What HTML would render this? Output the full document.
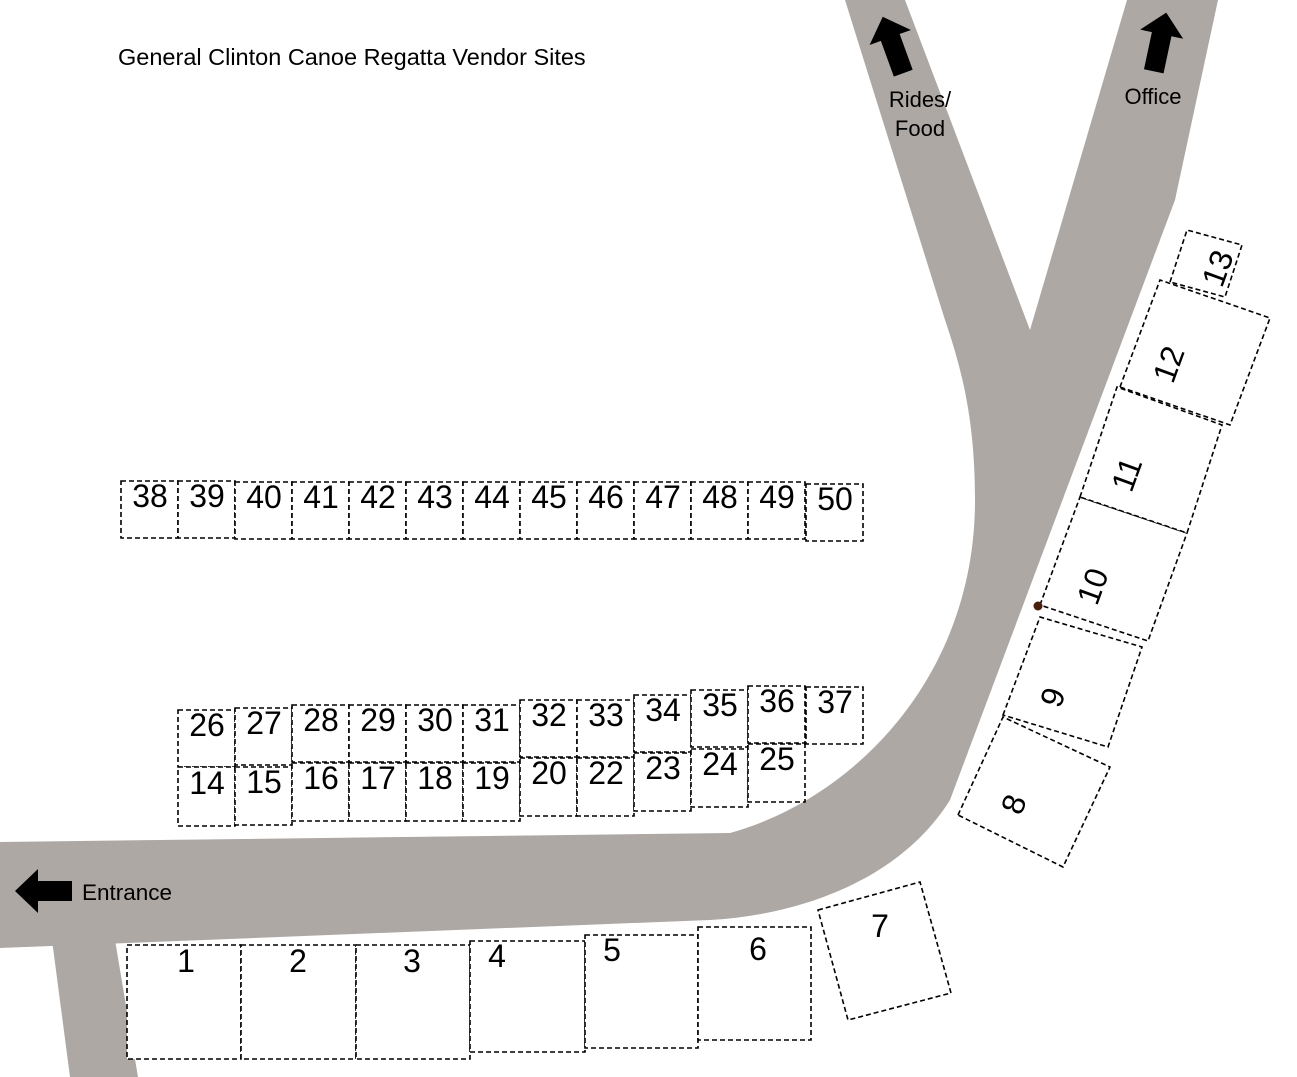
<!DOCTYPE html>
<html><head><meta charset="utf-8"><style>
html,body{margin:0;padding:0;background:#fff;}
svg{display:block;}
text{font-family:"Liberation Sans",sans-serif;fill:#000;}
.s{fill:#fff;stroke:#000;stroke-width:1.6;stroke-dasharray:5,3;}
.n{font-size:32px;text-anchor:middle;}
</style></head><body>
<svg width="1297" height="1077" viewBox="0 0 1297 1077" xmlns="http://www.w3.org/2000/svg">
<g fill="#aea8a5">
<path d="M0,842 L730,833 C850,800 975,680 975,500 C975,420 962,370 945,320 L845,0 L905,0 L1030,330 L1127,0 L1218,0 L1175,200 L950,800 C900,880 800,915 710,920 L0,948 Z"/>
<path d="M52,940 L115,940 L138,1077 L70,1077 Z"/>
</g>
<!-- arrows -->
<path transform="rotate(-20 893 45)" d="M893,15 L915,37 L903,37 L903,75 L883,75 L883,37 L871,37 Z" fill="#000"/>
<path transform="rotate(12 1160 42)" d="M1160,12 L1182,34 L1170,34 L1170,72 L1150,72 L1150,34 L1138,34 Z" fill="#000"/>
<path d="M15,891 L38,869 L38,881 L72,881 L72,901 L38,901 L38,913 Z" fill="#000"/>
<text x="118" y="65" font-size="23.5">General Clinton Canoe Regatta Vendor Sites</text>
<text x="920" y="107" font-size="22" text-anchor="middle">Rides/</text>
<text x="920" y="136" font-size="22" text-anchor="middle">Food</text>
<text x="1153" y="104" font-size="22" text-anchor="middle">Office</text>
<text x="82" y="900" font-size="22.5">Entrance</text>
<g transform="translate(0,0)">
<!-- row 38-50 -->
<rect class="s" x="121" y="481" width="57" height="57"/><text class="n" x="150" y="507">38</text>
<rect class="s" x="178" y="481" width="57" height="57"/><text class="n" x="207" y="507">39</text>
<rect class="s" x="235" y="482" width="57" height="57"/><text class="n" x="264" y="508">40</text>
<rect class="s" x="292" y="482" width="57" height="57"/><text class="n" x="321" y="508">41</text>
<rect class="s" x="349" y="482" width="57" height="57"/><text class="n" x="378" y="508">42</text>
<rect class="s" x="406" y="482" width="57" height="57"/><text class="n" x="435" y="508">43</text>
<rect class="s" x="463" y="482" width="57" height="57"/><text class="n" x="492" y="508">44</text>
<rect class="s" x="520" y="482" width="57" height="57"/><text class="n" x="549" y="508">45</text>
<rect class="s" x="577" y="482" width="57" height="57"/><text class="n" x="606" y="508">46</text>
<rect class="s" x="634" y="482" width="57" height="57"/><text class="n" x="663" y="508">47</text>
<rect class="s" x="691" y="482" width="57" height="57"/><text class="n" x="720" y="508">48</text>
<rect class="s" x="748" y="482" width="57" height="57"/><text class="n" x="777" y="508">49</text>
<rect class="s" x="806" y="484" width="57" height="57"/><text class="n" x="835" y="510">50</text>
<!-- row 26-37 -->
<rect class="s" x="178" y="710" width="57" height="57"/><text class="n" x="207" y="736">26</text>
<rect class="s" x="235" y="708" width="57" height="57"/><text class="n" x="264" y="734">27</text>
<rect class="s" x="292" y="705" width="57" height="57"/><text class="n" x="321" y="731">28</text>
<rect class="s" x="349" y="705" width="57" height="57"/><text class="n" x="378" y="731">29</text>
<rect class="s" x="406" y="705" width="57" height="57"/><text class="n" x="435" y="731">30</text>
<rect class="s" x="463" y="705" width="57" height="57"/><text class="n" x="492" y="731">31</text>
<rect class="s" x="520" y="700" width="57" height="57"/><text class="n" x="549" y="726">32</text>
<rect class="s" x="577" y="700" width="57" height="57"/><text class="n" x="606" y="726">33</text>
<rect class="s" x="634" y="695" width="57" height="57"/><text class="n" x="663" y="721">34</text>
<rect class="s" x="691" y="690" width="57" height="57"/><text class="n" x="720" y="716">35</text>
<rect class="s" x="748" y="686" width="57" height="57"/><text class="n" x="777" y="712">36</text>
<rect class="s" x="806" y="687" width="57" height="57"/><text class="n" x="835" y="713">37</text>
<!-- row 14-25 -->
<rect class="s" x="178" y="767" width="57" height="59"/><text class="n" x="207" y="794">14</text>
<rect class="s" x="235" y="767" width="57" height="58"/><text class="n" x="264" y="793">15</text>
<rect class="s" x="292" y="763" width="57" height="58"/><text class="n" x="321" y="789">16</text>
<rect class="s" x="349" y="763" width="57" height="58"/><text class="n" x="378" y="789">17</text>
<rect class="s" x="406" y="763" width="57" height="58"/><text class="n" x="435" y="789">18</text>
<rect class="s" x="463" y="763" width="57" height="58"/><text class="n" x="492" y="789">19</text>
<rect class="s" x="520" y="758" width="57" height="58"/><text class="n" x="549" y="784">20</text>
<rect class="s" x="577" y="758" width="57" height="58"/><text class="n" x="606" y="784">22</text>
<rect class="s" x="634" y="753" width="57" height="58"/><text class="n" x="663" y="779">23</text>
<rect class="s" x="691" y="749" width="57" height="58"/><text class="n" x="720" y="775">24</text>
<rect class="s" x="748" y="744" width="57" height="58"/><text class="n" x="777" y="770">25</text>
</g>
<!-- bottom 1-7 -->
<g>
<rect class="s" x="127" y="945" width="114" height="114"/><text class="n" x="186" y="972">1</text>
<rect class="s" x="241" y="945" width="115" height="114"/><text class="n" x="298" y="972">2</text>
<rect class="s" x="356" y="945" width="114" height="114"/><text class="n" x="412" y="972">3</text>
<rect class="s" x="470" y="941" width="115" height="111"/><text class="n" x="497" y="967">4</text>
<rect class="s" x="585" y="935" width="113" height="113"/><text class="n" x="612" y="961">5</text>
<rect class="s" x="698" y="927" width="113" height="113"/><text class="n" x="758" y="960">6</text>
<polygon class="s" points="818,910 920,882 951,993 848,1020"/><text class="n" x="880" y="937">7</text>
</g>
<!-- 8-13 -->
<g>
<polygon class="s" points="958,815 1003,717 1110,767 1063,867"/>
<polygon class="s" points="1003,715 1040,617 1142,647 1108,747"/>
<polygon class="s" points="1040,605 1080,497 1187,533 1148,641"/>
<polygon class="s" points="1080,497 1117,387 1222,425 1187,533"/>
<polygon class="s" points="1120,387 1160,280 1270,318 1230,425"/>
<polygon class="s" points="1170,282 1187,230 1242,245 1225,297"/>
<text class="n" transform="translate(1024,808) rotate(-70)">8</text>
<text class="n" transform="translate(1063,701) rotate(-70)">9</text>
<text class="n" transform="translate(1103,590) rotate(-70)">10</text>
<text class="n" transform="translate(1137,478) rotate(-70)">11</text>
<text class="n" transform="translate(1179,368) rotate(-70)">12</text>
<text class="n" transform="translate(1228,272) rotate(-70)">13</text>
<circle cx="1038" cy="606" r="4.5" fill="#4a1e0e"/>
</g>
</svg>
</body></html>
